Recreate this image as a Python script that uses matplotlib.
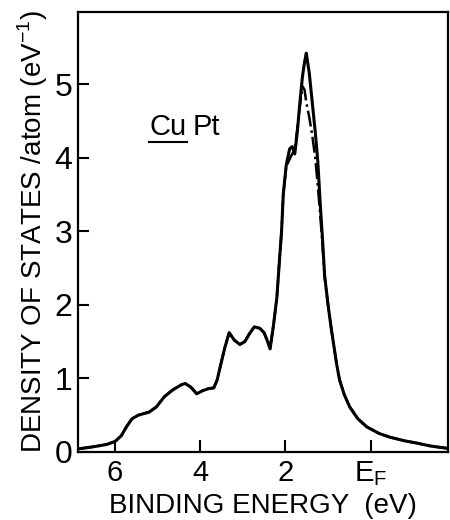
import matplotlib
matplotlib.use("Agg")
import matplotlib.pyplot as plt
from matplotlib.lines import Line2D

# binding energy (eV) and density of states
energy = [6.87, 6.5, 6.2, 6.0, 5.85, 5.73, 5.6, 5.45, 5.2, 5.03, 4.84, 4.65,
          4.45, 4.35, 4.22, 4.08, 3.95, 3.8, 3.68, 3.6, 3.52, 3.42, 3.32, 3.2,
          3.07, 2.95, 2.85, 2.73, 2.6, 2.5, 2.43, 2.36, 2.28, 2.2, 2.14, 2.09,
          2.05, 1.98, 1.9, 1.84, 1.78, 1.72, 1.66, 1.6, 1.55, 1.51, 1.44, 1.37,
          1.3, 1.24, 1.18, 1.13, 1.08, 1.0, 0.92, 0.8, 0.73, 0.62, 0.49, 0.3,
          0.09, -0.2, -0.45, -0.8, -1.08, -1.4, -1.78]

dos_solid = [0.04, 0.07, 0.10, 0.14, 0.22, 0.34, 0.45, 0.50, 0.54, 0.61, 0.75, 0.84,
             0.91, 0.93, 0.88, 0.79, 0.83, 0.86, 0.87, 0.98, 1.18, 1.42, 1.62, 1.52,
             1.46, 1.50, 1.60, 1.70, 1.68, 1.62, 1.52, 1.40, 1.72, 2.10, 2.60, 3.00,
             3.50, 3.90, 4.12, 4.15, 4.05, 4.35, 4.75, 5.10, 5.30, 5.42, 5.15, 4.75,
             4.35, 3.95, 3.35, 2.90, 2.40, 2.00, 1.66, 1.20, 0.98, 0.78, 0.61, 0.45,
             0.34, 0.25, 0.20, 0.15, 0.12, 0.08, 0.05]

dos_dashdot = [0.04, 0.07, 0.10, 0.14, 0.22, 0.34, 0.45, 0.50, 0.54, 0.61, 0.75, 0.84,
               0.91, 0.93, 0.88, 0.79, 0.83, 0.86, 0.87, 0.98, 1.18, 1.42, 1.62, 1.52,
               1.46, 1.50, 1.60, 1.70, 1.68, 1.62, 1.52, 1.40, 1.72, 2.10, 2.60, 3.00,
               3.50, 3.88, 3.98, 4.05, 4.10, 4.40, 4.70, 4.97, 4.92, 4.75, 4.55, 4.30,
               4.00, 3.62, 3.20, 2.82, 2.38, 2.00, 1.66, 1.20, 0.98, 0.78, 0.61, 0.45,
               0.34, 0.25, 0.20, 0.15, 0.12, 0.08, 0.05]

xticks = [6, 4, 2, 0]
xticklabels = ["6", "4", "2", "E$_\\mathregular{F}$"]
yticks = [0, 1, 2, 3, 4, 5]

plt.rcParams['font.family'] = ['Liberation Sans', 'DejaVu Sans']
plt.rcParams['mathtext.fontset'] = 'custom'
plt.rcParams['mathtext.rm'] = 'Liberation Sans'

fig = plt.figure(figsize=(4.5, 5.2), dpi=100)
ax = fig.add_axes([0.173, 0.131, 0.823, 0.846])

ax.plot(energy, dos_dashdot, color='black', lw=1.8, ls='-.')
ax.plot(energy, dos_solid, color='black', lw=2.2)

ax.set_xlim(6.87, -1.82)
ax.set_ylim(0, 5.98)
ax.set_xticks(xticks)
ax.set_xticklabels(xticklabels)
ax.set_yticks(yticks)
ax.tick_params(axis='x', direction='in', length=9, width=1.5, labelsize=21, pad=5)
ax.tick_params(axis='y', direction='in', length=8, width=1.5, labelsize=23, pad=4)
for s in ax.spines.values():
    s.set_linewidth(1.6)

ax.set_xlabel("BINDING ENERGY  (eV)", fontsize=20, labelpad=4)
ax.set_ylabel("DENSITY OF STATES /atom (eV$^{-1}$)", fontsize=20, labelpad=3)

# "Cu Pt" with Cu underlined
cu = ax.text(5.19, 4.31, "Cu", fontsize=21)
ax.text(4.18, 4.31, "Pt", fontsize=21)
fig.canvas.draw()
bb = cu.get_window_extent().transformed(fig.transFigure.inverted())
fig.add_artist(Line2D([bb.x0, bb.x1], [bb.y0 - 0.002, bb.y0 - 0.002],
                      color='black', lw=1.5, transform=fig.transFigure))

fig.savefig("out.png")
